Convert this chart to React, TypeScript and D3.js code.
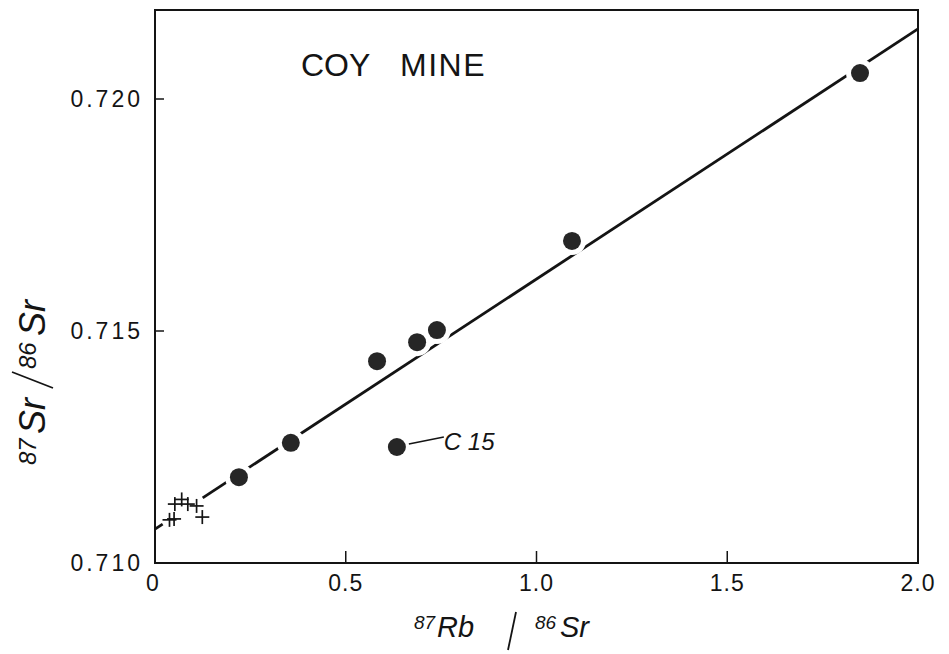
import React from "react";
import * as d3 from "d3";

// Filled-circle samples (87Rb/86Sr, 87Sr/86Sr)
const sampleRb = [0.22, 0.356, 0.582, 0.687, 0.739, 1.093, 1.848];
const sampleSr = [0.71185, 0.71259, 0.71435, 0.71476, 0.71502, 0.71694, 0.72056];
// Outlier C 15
const outlierRb = [0.634];
const outlierSr = [0.7125];
const outlierLabel = "C 15";
// Crosses near origin
const crossRb = [0.052, 0.07, 0.086, 0.109, 0.124, 0.038, 0.05];
const crossSr = [0.71127, 0.71137, 0.71127, 0.71123, 0.71099, 0.71093, 0.71095];
// Isochron line
const lineIntercept = 0.71073;
const lineSlope = 0.00539;
const lineSegments = [[0, 0.02], [0.125, 2.0]];
// Ticks
const xTicks = [0, 0.5, 1.0, 1.5, 2.0];
const xTickLabels = ["0", "0.5", "1.0", "1.5", "2.0"];
const yTicks = [0.71, 0.715, 0.72];
const yTickLabels = ["0.710", "0.715", "0.720"];
const title = ["COY", "MINE"];

const W = 949, H = 654;
const left = 155, right = 918, top = 10, bottom = 563;
const FONT = "'Liberation Sans', Arial, Helvetica, sans-serif";
const INK = "#141414";

export default function App() {
  const x = d3.scaleLinear().domain([0, 2]).range([left, right]);
  const y = d3.scaleLinear().domain([0.71, 0.72]).range([bottom, 99]);
  const line = d3
    .line<number>()
    .x((d) => x(d))
    .y((d) => y(lineIntercept + lineSlope * d));

  const allCircles = [
    ...sampleRb.map((r, i) => [r, sampleSr[i]]),
    ...outlierRb.map((r, i) => [r, outlierSr[i]]),
  ];

  return (
    <svg width={W} height={H} style={{ position: "absolute", left: 0, top: 0, background: "#fff" }}>
      <rect x={0} y={0} width={W} height={H} fill="#fff" />
      {/* frame */}
      <rect x={left} y={top} width={right - left} height={bottom - top} fill="none" stroke={INK} strokeWidth={2} />
      {/* x ticks */}
      {xTicks.map((t, i) => (
        <g key={"xt" + i}>
          {i > 0 && i < xTicks.length - 1 && (
            <line x1={x(t)} x2={x(t)} y1={bottom} y2={bottom - 12} stroke={INK} strokeWidth={1.5} />
          )}
          <text x={x(t) + (i === 0 ? -2 : 0)} y={591} textAnchor="middle" fontFamily={FONT} fontSize={23} fill={INK} letterSpacing={1}>
            {xTickLabels[i]}
          </text>
        </g>
      ))}
      {/* y ticks */}
      {yTicks.map((t, i) => (
        <g key={"yt" + i}>
          {i > 0 && <line x1={left} x2={left + 9} y1={y(t)} y2={y(t)} stroke={INK} strokeWidth={1.5} />}
          <text x={143} y={y(t) + 8} textAnchor="end" fontFamily={FONT} fontSize={23} fill={INK} letterSpacing={3}>
            {yTickLabels[i]}
          </text>
        </g>
      ))}
      {/* isochron */}
      {lineSegments.map((s, i) => (
        <path key={"ls" + i} d={line(s) || ""} fill="none" stroke={INK} strokeWidth={2.8} />
      ))}
      {/* white gaps around circles */}
      {allCircles.map((p, i) => (
        <circle key={"gw" + i} cx={x(p[0])} cy={y(p[1])} r={14} fill="#fff" />
      ))}
      {allCircles.map((p, i) => (
        <circle key={"c" + i} cx={x(p[0])} cy={y(p[1])} r={9} fill="#262626" />
      ))}
      {/* crosses */}
      {crossRb.map((r, i) => {
        const cx = x(r), cy = y(crossSr[i]);
        return (
          <g key={"cr" + i} stroke={INK} strokeWidth={1.7}>
            <line x1={cx - 7} x2={cx + 7} y1={cy} y2={cy} />
            <line x1={cx} x2={cx} y1={cy - 7} y2={cy + 7} />
          </g>
        );
      })}
      {/* C15 leader */}
      <line x1={x(outlierRb[0]) + 12} y1={y(outlierSr[0]) - 3} x2={x(outlierRb[0]) + 47} y2={y(outlierSr[0]) - 10} stroke={INK} strokeWidth={1.6} />
      <text x={x(outlierRb[0]) + 47} y={y(outlierSr[0]) + 3} fontFamily={FONT} fontStyle="italic" fontSize={24} fill={INK}>
        {outlierLabel}
      </text>
      {/* title */}
      <text x={301} y={76} fontFamily={FONT} fontSize={32} fill={INK}>{title[0]}</text>
      <text x={400} y={76} fontFamily={FONT} fontSize={32} fill={INK} letterSpacing={1.5}>{title[1]}</text>
      {/* x label */}
      <g fontFamily={FONT} fill={INK} fontStyle="italic">
        <text x={414} y={629} fontSize={19}>87</text>
        <text x={437} y={637} fontSize={29}>Rb</text>
        <line x1={508} y1={650} x2={516} y2={612} stroke={INK} strokeWidth={1.8} />
        <text x={535} y={629} fontSize={19}>86</text>
        <text x={560} y={637} fontSize={29}>Sr</text>
      </g>
      {/* y label */}
      <g transform="translate(45,0) rotate(-90)" fontFamily={FONT} fill={INK} fontStyle="italic">
        <text x={-465} y={-9} fontSize={24}>87</text>
        <text x={-434} y={0} fontSize={36}>Sr</text>
        <text x={-369} y={-9} fontSize={24}>86</text>
        <text x={-336} y={0} fontSize={36}>Sr</text>
      </g>
      <line x1={12} y1={372} x2={53} y2={388} stroke={INK} strokeWidth={1.8} />
    </svg>
  );
}
